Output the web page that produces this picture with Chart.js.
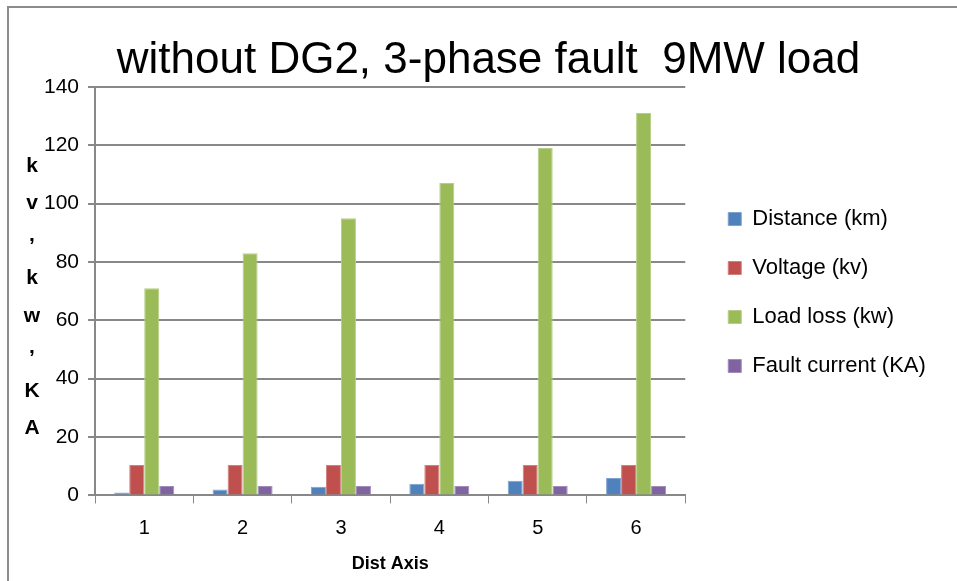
<!DOCTYPE html>
<html lang="en">
<head>
  <meta charset="UTF-8">
  <title>without DG2, 3-phase fault 9MW load</title>
  <script src="https://cdn.jsdelivr.net/npm/chart.js"></script>
  <style>
    body { margin: 0; background: #fff; }
    #chartContainer { width: 957px; height: 581px; }
  </style>
</head>
<body>

<div id="chartContainer">
  <canvas id="faultChart" width="957" height="581"></canvas>
</div>

<script>
const categories = ['1', '2', '3', '4', '5', '6'];
const distance = [1, 2, 3, 4, 5, 6];
const voltage = [10.4, 10.4, 10.4, 10.4, 10.4, 10.4];
const loadLoss = [71, 83, 95, 107, 119, 131];
const faultCurrent = [3.2, 3.2, 3.2, 3.2, 3.2, 3.2];
const yTicks = [0, 20, 40, 60, 80, 100, 120, 140];
const yTitleChars = ['k', 'v', ',', 'k', 'w', ',', 'K', 'A'];

const FONT = "'Liberation Sans', Arial, sans-serif";

// outer frame (top + left edge), stacked y-axis title, legend spacing
const framePlugin = {
  id: 'frame',
  beforeLayout(chart) {
    // widen the legend box so there is more room between plot and legend
    const lg = chart.legend;
    if (lg && !lg._wider) {
      const fit = lg.fit.bind(lg);
      lg.fit = function () { fit(); this.width += 30; };
      lg._wider = true;
    }
  },
  afterLayout(chart) {
    const lg = chart.legend;
    if (lg) { lg.left += 16; lg.right += 16; }
  },
  beforeDraw(chart) {
    const ctx = chart.ctx;
    ctx.save();
    ctx.strokeStyle = '#8c8c8c';
    ctx.lineWidth = 2;
    ctx.beginPath();
    ctx.moveTo(8, 581);
    ctx.lineTo(8, 7);
    ctx.lineTo(957, 7);
    ctx.stroke();
    ctx.restore();
  },
  afterDraw(chart) {
    const ctx = chart.ctx;
    ctx.save();
    ctx.fillStyle = '#000';
    ctx.font = 'bold 21px ' + FONT;
    ctx.textAlign = 'center';
    ctx.textBaseline = 'middle';
    yTitleChars.forEach((c, i) => {
      const dy = c === ',' ? -6 : 0;
      ctx.fillText(c, 32, 166 + i * 37.5 + dy);
    });
    ctx.restore();
  }
};

const ctx = document.getElementById('faultChart').getContext('2d');
new Chart(ctx, {
  type: 'bar',
  data: {
    labels: categories,
    datasets: [
      { label: 'Distance (km)', data: distance, backgroundColor: '#4F81BD', borderColor: '#7fa3d0', borderWidth: 1 },
      { label: 'Voltage (kv)', data: voltage, backgroundColor: '#C0504D', borderColor: '#d47f7d', borderWidth: 1 },
      { label: 'Load loss (kw)', data: loadLoss, backgroundColor: '#9BBB59', borderColor: '#b6cf85', borderWidth: 1 },
      { label: 'Fault current (KA)', data: faultCurrent, backgroundColor: '#8064A2', borderColor: '#a18cbc', borderWidth: 1 }
    ]
  },
  options: {
    responsive: false,
    animation: false,
    categoryPercentage: 0.61,
    barPercentage: 1.0,
    layout: { padding: { left: 35, right: 15, top: 10, bottom: 6 } },
    plugins: {
      title: {
        display: true,
        text: 'without DG2, 3-phase fault  9MW load',
        color: '#000',
        font: { family: FONT, size: 44, weight: 'normal' },
        padding: { top: 24, bottom: 0 }
      },
      legend: {
        position: 'right',
        labels: {
          color: '#000',
          font: { family: FONT, size: 22 },
          boxWidth: 13,
          boxHeight: 13,
          padding: 27
        }
      },
      tooltip: { enabled: false }
    },
    scales: {
      x: {
        grid: { drawOnChartArea: false, color: '#888', tickLength: 8, offset: true },
        border: { color: '#888', width: 2 },
        ticks: { color: '#000', font: { family: FONT, size: 20 }, padding: 13 },
        title: {
          display: true,
          text: 'Dist Axis',
          color: '#000',
          font: { family: FONT, size: 18, weight: 'bold' },
          padding: { top: 0, bottom: 0 }
        }
      },
      y: {
        min: 0,
        max: 140,
        afterBuildTicks(axis) { axis.ticks = yTicks.map(v => ({ value: v })); },
        grid: { color: '#888', lineWidth: 2, tickLength: 7 },
        border: { color: '#888', width: 2 },
        ticks: { color: '#000', font: { family: FONT, size: 21 }, padding: 9 }
      }
    }
  },
  plugins: [framePlugin]
});
</script>

</body>
</html>
